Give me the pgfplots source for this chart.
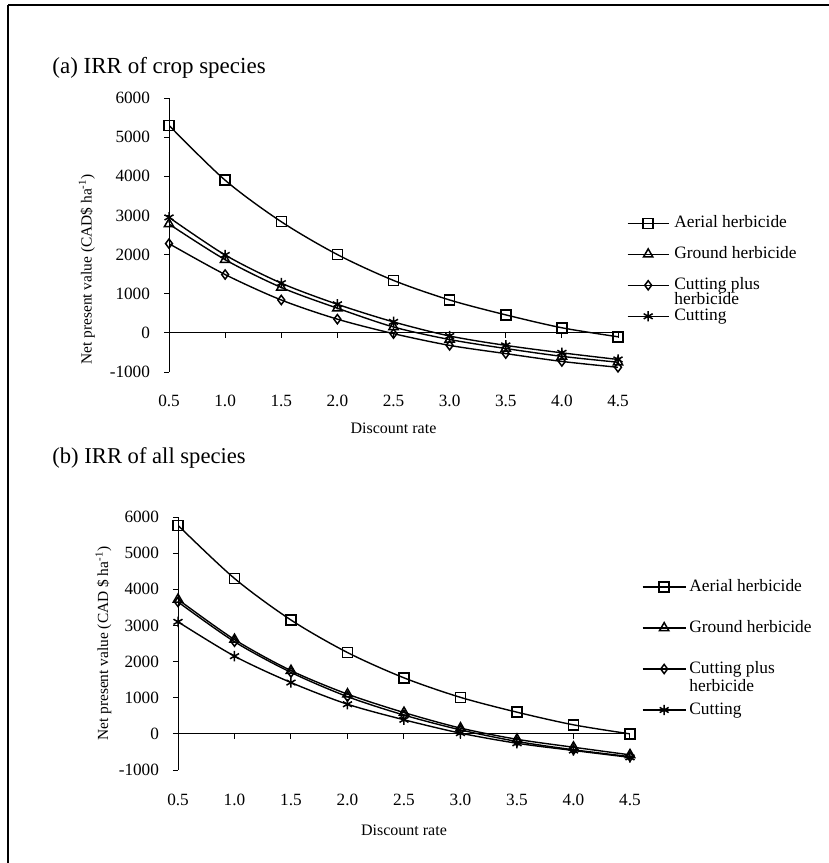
\documentclass[border=0pt]{standalone}
\usepackage{fontspec}
\setmainfont{Liberation Serif}
\usepackage{pgfplots}
\pgfplotsset{compat=1.18}
\pgfplotsset{
  npv/.style={
    scale only axis,
    xmin=0.5, xmax=4.5, ymin=-1000, ymax=6000,
    axis x line*=middle, axis y line*=left,
    hide obscured x ticks=false, hide obscured y ticks=false,
    axis line style={-, line width=0.5pt},
    xtick={0.5,1.0,1.5,2.0,2.5,3.0,3.5,4.0,4.5},
    ytick={-1000,0,1000,2000,3000,4000,5000,6000},
    tick align=outside, major tick length=2.5pt,
    tick style={line width=0.5pt, black},
    tick label style={font=\fontsize{8.6}{10}\selectfont},
    /pgf/number format/assume math mode=true,
    yticklabel style={/pgf/number format/1000 sep={}, xshift=-3.5pt},
    xticklabel style={/pgf/number format/fixed, /pgf/number format/fixed zerofill, /pgf/number format/precision=1},
    every axis plot/.append style={black, line width=0.7pt, smooth, mark options={solid, fill=white, line width=0.75pt}},
    legend cell align=left,
    xlabel style={font=\fontsize{8}{9}\selectfont, anchor=center},
    ylabel style={font=\fontsize{7.7}{9}\selectfont, anchor=center},
  },
  legstyle/.style={
    legend style={draw=none, fill=none, inner sep=0pt, outer sep=0pt, anchor=north west,
      font=\fontsize{8.7}{9}\selectfont,
      nodes={inner sep=0pt, text height=6pt, text depth=2pt}},
  }
}
\begin{document}
\begin{tikzpicture}
\path[use as bounding box] (0,0) rectangle (414.5pt,-431.5pt);
\draw[line width=0.8pt] (4pt,-2.5pt) -- (414.5pt,-2.5pt);
\draw[line width=0.8pt] (4pt,-2.5pt) -- (4pt,-431.5pt);

\node[anchor=west, inner sep=0pt, font=\fontsize{11.5}{14}\selectfont] at (26pt,-34pt) {(a) IRR of crop species};
\node[anchor=west, inner sep=0pt, font=\fontsize{11.3}{14}\selectfont] at (26pt,-229pt) {(b) IRR of all species};

% ---------- (a) ----------
\begin{axis}[npv, legstyle, at={(84.5pt,-186pt)}, anchor=south west,
  width=224.5pt, height=137pt,
  xticklabel style={yshift=-25pt},
  xlabel={Discount rate}, xlabel style={at={(axis description cs:0.5,-0.205)}},
  ylabel={Net present value (CAD\$ ha\textsuperscript{-1})},
  ylabel style={at={(axis description cs:-0.183,0.375)}},
  legend style={at={(1.02,0.572)}, row sep=7.5pt, column sep=2.5pt},
  legend image code/.code={\draw[mark repeat=2,mark phase=2] plot coordinates {(0pt,0pt)(10.25pt,0pt)(20.5pt,0pt)};},
]
\addplot[mark=square, mark size=2.5pt] coordinates {(0.5,5300)(1.0,3900)(1.5,2840)(2.0,2000)(2.5,1340)(3.0,840)(3.5,460)(4.0,130)(4.5,-100)};
\addlegendentry{Aerial herbicide}
\addplot[mark=triangle, mark size=2.7pt] coordinates {(0.5,2780)(1.0,1870)(1.5,1160)(2.0,630)(2.5,150)(3.0,-170)(3.5,-400)(4.0,-600)(4.5,-750)};
\addlegendentry{Ground herbicide}
\addplot[mark=diamond, mark size=2.3pt] coordinates {(0.5,2280)(1.0,1490)(1.5,840)(2.0,350)(2.5,-20)(3.0,-320)(3.5,-530)(4.0,-730)(4.5,-880)};
\addlegendentry{\begin{tabular}[t]{@{}l@{}}Cutting plus\\[-1.5pt]herbicide\end{tabular}}
\addplot[mark=asterisk, mark size=2.6pt] coordinates {(0.5,2950)(1.0,1990)(1.5,1270)(2.0,730)(2.5,280)(3.0,-80)(3.5,-320)(4.0,-510)(4.5,-680)};
\addlegendentry{Cutting}
\end{axis}

% ---------- (b) ----------
\begin{axis}[npv, legstyle, at={(89pt,-385pt)}, anchor=south west,
  width=226pt, height=126.5pt,
  xticklabel style={yshift=-24pt},
  xlabel={Discount rate}, xlabel style={at={(axis description cs:0.5,-0.237)}},
  ylabel={Net present value (CAD \$ ha\textsuperscript{-1})},
  ylabel style={at={(axis description cs:-0.165,0.5)}},
  legend style={at={(1.0265,0.755)}, row sep=12.5pt, column sep=1.5pt},
  legend image code/.code={\draw[mark repeat=2,mark phase=2] plot coordinates {(0pt,0pt)(10.75pt,0pt)(21.5pt,0pt)};},
]
\addplot[mark=square, mark size=2.5pt] coordinates {(0.5,5770)(1.0,4300)(1.5,3150)(2.0,2250)(2.5,1550)(3.0,1010)(3.5,600)(4.0,250)(4.5,0)};
\addlegendentry{Aerial herbicide}
\addplot[mark=triangle, mark size=2.7pt] coordinates {(0.5,3720)(1.0,2610)(1.5,1750)(2.0,1100)(2.5,590)(3.0,160)(3.5,-150)(4.0,-370)(4.5,-580)};
\addlegendentry{Ground herbicide}
\addplot[mark=diamond, mark size=2.3pt] coordinates {(0.5,3650)(1.0,2550)(1.5,1700)(2.0,1030)(2.5,520)(3.0,110)(3.5,-210)(4.0,-440)(4.5,-630)};
\addlegendentry{\begin{tabular}[t]{@{}l@{}}Cutting plus\\herbicide\end{tabular}}
\addplot[mark=asterisk, mark size=2.6pt] coordinates {(0.5,3100)(1.0,2150)(1.5,1420)(2.0,820)(2.5,390)(3.0,20)(3.5,-260)(4.0,-460)(4.5,-650)};
\addlegendentry{Cutting}
\end{axis}
\end{tikzpicture}
\end{document}
